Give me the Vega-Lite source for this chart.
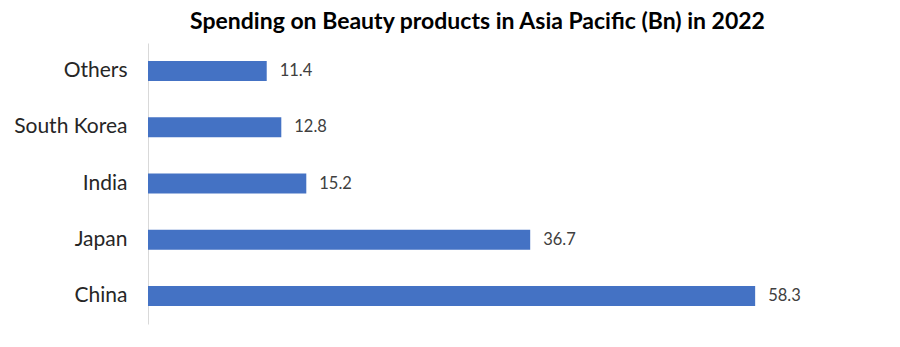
{
  "$schema": "https://vega.github.io/schema/vega-lite/v6.json",
  "width": 729,
  "height": 281,
  "autosize": {"type": "none"},
  "padding": {"left": 148, "top": 43, "right": 23, "bottom": 23},
  "background": "white",
  "config": {"view": {"stroke": null}, "font": "Lato"},
  "title": {
    "text": "Spending on Beauty products in Asia Pacific (Bn) in 2022",
    "font": "Lato",
    "fontSize": 23,
    "fontWeight": "bold",
    "color": "#000000",
    "anchor": "middle",
    "dx": -35,
    "offset": 9
  },
  "data": {
    "values": [
      {"country": "Others", "value": 11.4},
      {"country": "South Korea", "value": 12.8},
      {"country": "India", "value": 15.2},
      {"country": "Japan", "value": 36.7},
      {"country": "China", "value": 58.3}
    ]
  },
  "encoding": {
    "y": {
      "field": "country",
      "type": "nominal",
      "sort": ["Others", "South Korea", "India", "Japan", "China"],
      "scale": {"paddingInner": 0.645, "paddingOuter": 0.32},
      "axis": {
        "title": null,
        "ticks": false,
        "labelFontSize": 21,
        "labelColor": "#262626",
        "labelFont": "Lato",
        "labelPadding": 21,
        "domainColor": "#d9d9d9",
        "domainWidth": 1
      }
    },
    "x": {
      "field": "value",
      "type": "quantitative",
      "scale": {"domain": [0, 70]},
      "axis": null
    }
  },
  "layer": [
    {"mark": {"type": "bar", "color": "#4472C4"}},
    {
      "mark": {"type": "text", "align": "left", "dx": 13, "fontSize": 16.5, "color": "#404040", "font": "Lato"},
      "encoding": {"text": {"field": "value", "type": "quantitative", "format": ".1f"}}
    }
  ]
}
